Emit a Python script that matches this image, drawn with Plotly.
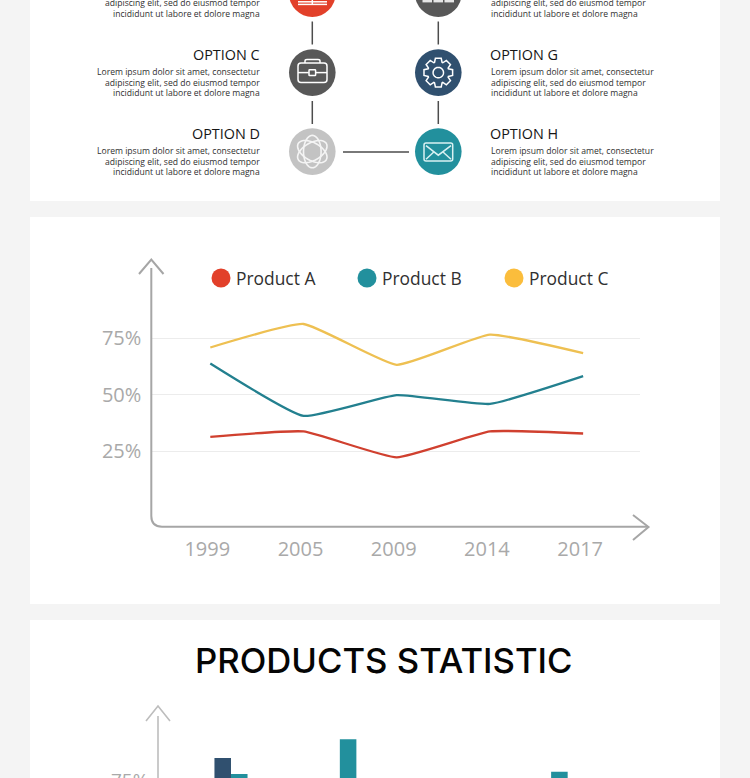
import math
import plotly.graph_objects as go

# ---- chart data ----
years = ["1999", "2005", "2009", "2014", "2017"]
product_a = [31.4, 33.8, 22.3, 33.8, 32.9]
product_b = [63.9, 40.7, 49.9, 46.0, 58.3]
product_c = [71.0, 81.4, 63.3, 76.7, 68.5]
product_names = ["Product A", "Product B", "Product C"]
percent_ticks = [25, 50, 75]
percent_labels = ["25%", "50%", "75%"]

bar_groups = [0, 1.02, 3]
bars_navy = [84.7, None, None]
bars_teal = [77.7, 93.0, 78.7]

lorem_lines = [
    "Lorem ipsum dolor sit amet, consectetur",
    "adipiscing elit, sed do eiusmod tempor",
    "incididunt ut labore et dolore magna",
]

# ---- palette ----
RED, TEAL, YELLOW = "#e2402a", "#22909d", "#fbbd3c"
YELLOW_LINE = "#eec052"
RED_LINE = "#d0402f"
TEAL_LINE = "#23808f"
NAVY = "#30506f"
DARK_GREY, LIGHT_GREY = "#585858", "#c3c3c3"
AXIS_GREY, TICK_GREY = "#a6a6a6", "#a9a9a9"
BODY = "Open Sans"

W, H = 750, 778
LEFT_X, RIGHT_X = 312.3, 438.3
ROW_Y = [-6.4, 72.6, 151.6]
NODE_R = 23.3

shapes, annotations = [], []


def px_x(p):
    return p / W


def px_y(p):
    return 1 - p / H


def stroke(path, color="#ffffff", width=1.5):
    shapes.append(dict(type="path", xref="x", yref="y", path=path,
                       line=dict(color=color, width=width)))


def segment(x0, y0, x1, y1, color="#ffffff", width=1.5):
    stroke(f"M{x0},{y0} L{x1},{y1}", color, width)


def rounded_rect(x0, y0, x1, y1, r):
    return (f"M{x0+r},{y0} L{x1-r},{y0} Q{x1},{y0} {x1},{y0+r} L{x1},{y1-r} "
            f"Q{x1},{y1} {x1-r},{y1} L{x0+r},{y1} Q{x0},{y1} {x0},{y1-r} "
            f"L{x0},{y0+r} Q{x0},{y0} {x0+r},{y0} Z")


def ellipse(cx, cy, rx, ry, angle=0.0, steps=48):
    a = math.radians(angle)
    pts = []
    for i in range(steps):
        t = 2 * math.pi * i / steps
        ex, ey = rx * math.cos(t), ry * math.sin(t)
        pts.append((cx + ex * math.cos(a) - ey * math.sin(a),
                    cy + ex * math.sin(a) + ey * math.cos(a)))
    return "M" + " L".join(f"{x:.2f},{y:.2f}" for x, y in pts) + " Z"


def gear(cx, cy, teeth=8, outer=14.6, inner=10.8):
    pts = []
    for i in range(teeth):
        c = 2 * math.pi * i / teeth - math.pi / 2
        for da, r in ((-0.36, inner), (-0.2, outer), (0.2, outer), (0.36, inner)):
            pts.append((cx + r * math.cos(c + da), cy + r * math.sin(c + da)))
    return "M" + " L".join(f"{x:.2f},{y:.2f}" for x, y in pts) + " Z"


def text(x, y, s, size, color, anchor="left", family=BODY, vanchor="middle", weight=None):
    font = dict(family=family, size=size, color=color)
    if weight:
        font["weight"] = weight
    annotations.append(dict(x=x, y=y, xref="x", yref="y", text=s, showarrow=False,
                            xanchor=anchor, yanchor=vanchor, font=font,
                            borderpad=0, borderwidth=0))


# ---- white panels on the grey page ----
for top, bottom in ((0, 201), (217, 604), (620, 778)):
    shapes.append(dict(type="rect", xref="x", yref="y", x0=30, x1=720, y0=top, y1=bottom,
                       fillcolor="#ffffff", line=dict(width=0), layer="below"))

# ---- option nodes ----
fig = go.Figure()
fig.add_trace(go.Scatter(
    x=[LEFT_X, LEFT_X, LEFT_X, RIGHT_X, RIGHT_X, RIGHT_X],
    y=ROW_Y + ROW_Y, mode="markers", hoverinfo="skip", showlegend=False,
    marker=dict(size=2 * NODE_R, line=dict(width=0),
                color=[RED, DARK_GREY, LIGHT_GREY, DARK_GREY, NAVY, TEAL])))

for cx in (LEFT_X, RIGHT_X):
    segment(cx, 21.5, cx, 44.5, "#4d4d4d", 1.5)
    segment(cx, 101, cx, 124, "#4d4d4d", 1.5)
segment(343, 152, 409, 152, "#4d4d4d", 1.5)

# partly hidden icons along the top edge
segment(298, 1.8, 327, 1.8)
segment(298, 4.4, 327, 4.4)
segment(LEFT_X, 0, LEFT_X, 4.4)
for x0, x1 in ((422.5, 432), (433.5, 443), (444.5, 454)):
    shapes.append(dict(type="rect", xref="x", yref="y", x0=x0, x1=x1, y0=-1, y1=2.4,
                       fillcolor="#e6e6e6", line=dict(width=0)))

# briefcase
cy = ROW_Y[1]
stroke(rounded_rect(298, cy - 9.6, 327, cy + 10, 3))
stroke(f"M305,{cy-9.6} L305,{cy-11.5} Q305,{cy-13} 307,{cy-13} L318,{cy-13} "
       f"Q320,{cy-13} 320,{cy-11.5} L320,{cy-9.6}")
segment(298, cy, 308.8, cy)
segment(315.8, cy, 327, cy)
stroke(rounded_rect(309, cy - 2.8, 315.6, cy + 3, 0.6))

# atom
cy = ROW_Y[2]
for tilt in (90, 30, -30):
    stroke(ellipse(LEFT_X, cy, 16.2, 8.8, tilt), "#f4f4f4", 1.6)

# gear
cy = ROW_Y[1]
stroke(gear(RIGHT_X, cy))
stroke(ellipse(RIGHT_X, cy, 5.2, 5.2))

# envelope
cy = ROW_Y[2]
stroke(rounded_rect(424, cy - 8.6, 452.7, cy + 9.4, 2), "#d9f1f2")
stroke(f"M426,{cy-6} L{RIGHT_X},{cy+3.6} L451,{cy-6}", "#d9f1f2")
segment(426, cy + 7.6, 433.8, cy + 0.4, "#d9f1f2")
segment(451, cy + 7.6, 443, cy + 0.4, "#d9f1f2")

# ---- option captions ----
LINE_STEP = 10.35
BODY_SIZE = 8.6
for heading, head_y, first_line in (
    ("OPTION C", 54.4, 72.4), ("OPTION D", 133.4, 151.4), (None, None, -7.1),
):
    if heading:
        text(260, head_y, heading, 14.4, "#151515", "right")
    for i, line in enumerate(lorem_lines):
        y = first_line + i * LINE_STEP
        if y > 0:
            text(260, y, line, BODY_SIZE, "#303030", "right")
for heading, head_y, first_line in (
    ("OPTION G", 54.4, 72.4), ("OPTION H", 133.4, 151.4), (None, None, -7.1),
):
    if heading:
        text(490, head_y, heading, 14.4, "#151515", "left")
    for i, line in enumerate(lorem_lines):
        y = first_line + i * LINE_STEP
        if y > 0:
            text(490.5, y, line, BODY_SIZE, "#303030", "left")

# ---- line chart key ----
key_x = [221, 367, 514]
fig.add_trace(go.Scatter(
    x=key_x, y=[278] * 3, mode="markers", hoverinfo="skip", showlegend=False,
    marker=dict(size=19, color=[RED, TEAL, YELLOW], line=dict(width=0))))
for kx, name in zip(key_x, product_names):
    text(kx + 15, 277.6, name, 17.4, "#303030")

# ---- line chart arrows ----
stroke("M151.3,268 L151.3,516 Q151.3,526.7 162,526.7 L648,526.7", AXIS_GREY, 2)
stroke("M139,274 L151.3,259.5 L163.5,274", AXIS_GREY, 2)
stroke("M633,515 L648.5,527 L633,540", AXIS_GREY, 2)

# ---- line series ----
for values, colour, name in zip((product_a, product_b, product_c),
                                (RED_LINE, TEAL_LINE, YELLOW_LINE), product_names):
    fig.add_trace(go.Scatter(
        x=years, y=values, name=name, mode="lines", xaxis="x2", yaxis="y2", showlegend=False,
        line=dict(color=colour, width=2.3, shape="spline", smoothing=0.4)))

# ---- bar chart ----
fig.add_trace(go.Bar(x=bar_groups, y=bars_navy, xaxis="x3", yaxis="y3", width=0.155,
                     offset=-0.155, marker=dict(color=NAVY, line=dict(width=0)), showlegend=False))
fig.add_trace(go.Bar(x=bar_groups, y=bars_teal, xaxis="x3", yaxis="y3", width=0.155,
                     offset=0, marker=dict(color=TEAL, line=dict(width=0)), showlegend=False))
stroke("M158,716 L158,778", "#bdbdbd", 1.6)
stroke("M146,721 L158,706 L170,721", "#bdbdbd", 1.6)
text(148, 767, "75%", 19, TICK_GREY, "right", vanchor="top")

# ---- section title ----
text(383, 660, "PRODUCTS STATISTIC", 34.7, "#050505", "center", family="Inter", weight=500)

hidden = dict(visible=False, fixedrange=True)
fig.update_layout(
    width=W, height=H, autosize=False,
    margin=dict(l=0, r=0, t=0, b=0, pad=0),
    paper_bgcolor="#f4f4f4", plot_bgcolor="rgba(0,0,0,0)",
    font=dict(family=BODY),
    hovermode=False, barmode="overlay",
    shapes=shapes, annotations=annotations,
    xaxis=dict(range=[0, W], domain=[0, 1], **hidden),
    yaxis=dict(range=[H, 0], domain=[0, 1], **hidden),
    xaxis2=dict(
        domain=[px_x(151.3), px_x(640)], anchor="y2", type="category",
        categoryorder="array", categoryarray=years,
        range=[-0.633, 4.61], showgrid=False, zeroline=False, showline=False,
        ticks="", tickfont=dict(family=BODY, size=20, color=TICK_GREY),
        ticklabelstandoff=8, ticklabelshift=-3, fixedrange=True),
    yaxis2=dict(
        domain=[px_y(526.7), px_y(259)], anchor="x2",
        range=[-8.4, 110.2], tickmode="array", tickvals=percent_ticks,
        ticktext=percent_labels, showgrid=True, gridcolor="#ececec", gridwidth=1,
        zeroline=False, showline=False, ticks="",
        tickfont=dict(family=BODY, size=20, color=TICK_GREY),
        ticklabelstandoff=9, fixedrange=True),
    xaxis3=dict(domain=[px_x(158), px_x(700)], anchor="y3", range=[-0.684, 4.395], **hidden),
    yaxis3=dict(domain=[0, px_y(705)], anchor="x3", range=[75.9, 108.2], **hidden),
)

fig.write_html("out.html", config=dict(displayModeBar=False))
